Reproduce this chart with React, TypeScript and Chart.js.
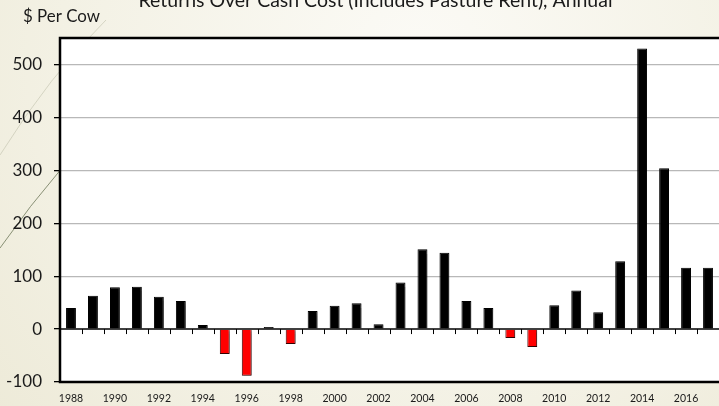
import React, { useEffect, useRef } from 'react';
import { Chart, registerables } from 'chart.js';

Chart.register(...registerables);

const years: string[] = [
  '1988', '1989', '1990', '1991', '1992', '1993', '1994', '1995', '1996', '1997',
  '1998', '1999', '2000', '2001', '2002', '2003', '2004', '2005', '2006', '2007',
  '2008', '2009', '2010', '2011', '2012', '2013', '2014', '2015', '2016', '2017',
];
const returnsPerCow: number[] = [
  40, 63, 79, 80, 61, 53, 7.5, -47, -88, 4,
  -28, 34, 44, 49, 9, 88, 151, 144, 53, 40,
  -17, -34, 45, 73, 32, 128, 530, 304, 116, 116,
];
const yTickValues: number[] = [-100, 0, 100, 200, 300, 400, 500];
const yMin = -100;
const yMax = 550;
const titleText = 'Returns Over Cash Cost (Includes Pasture Rent), Annual';
const yAxisLabel = '$ Per Cow';

const FONT = 'Lato, "Open Sans", sans-serif';

function fitText(ctx: CanvasRenderingContext2D, text: string, width: number): number {
  ctx.font = `100px ${FONT}`;
  const w = ctx.measureText(text).width;
  return (100 * width) / w;
}

const decorPlugin = {
  id: 'decor',
  beforeDraw(chart: any) {
    const { ctx, width, height, chartArea } = chart;
    ctx.save();
    const g = ctx.createRadialGradient(420, 60, 20, 420, 60, 700);
    g.addColorStop(0, '#fbfaf5');
    g.addColorStop(0.5, '#f3f1e4');
    g.addColorStop(1, '#e9e5cf');
    ctx.fillStyle = g;
    ctx.fillRect(0, 0, width, height);

    // decorative theme lines
    ctx.strokeStyle = 'rgba(110,120,90,0.8)';
    ctx.lineWidth = 1;
    ctx.beginPath();
    ctx.moveTo(0, 248);
    ctx.quadraticCurveTo(30, 205, 62, 168);
    ctx.stroke();
    ctx.strokeStyle = 'rgba(200,200,180,0.7)';
    ctx.beginPath();
    ctx.moveTo(0, 155);
    ctx.quadraticCurveTo(50, 75, 106, 20);
    ctx.stroke();

    // white plot area
    ctx.fillStyle = '#ffffff';
    ctx.fillRect(chartArea.left, chartArea.top, chartArea.right - chartArea.left, chartArea.bottom - chartArea.top);

    // title (partially cut at top)
    ctx.fillStyle = '#1a1a1a';
    ctx.textBaseline = 'alphabetic';
    ctx.textAlign = 'center';
    const ts = fitText(ctx, titleText, 474);
    ctx.font = `${ts}px ${FONT}`;
    ctx.fillText(titleText, 375.5, 7);

    // y axis label
    ctx.textAlign = 'left';
    const ls = fitText(ctx, yAxisLabel, 77);
    ctx.font = `${ls}px ${FONT}`;
    ctx.fillText(yAxisLabel, 23, 21.5);
    ctx.restore();
  },
  beforeDatasetsDraw(chart: any) {
    const { ctx } = chart;
    ctx.save();
    ctx.shadowColor = 'rgba(0,0,0,0.28)';
    ctx.shadowOffsetX = 2;
    ctx.shadowOffsetY = 1;
    ctx.shadowBlur = 1.5;
  },
  afterDatasetsDraw(chart: any) {
    const { ctx, chartArea, scales } = chart;
    ctx.restore();
    ctx.save();
    const y0 = scales.y.getPixelForValue(0);
    ctx.strokeStyle = '#000';
    ctx.lineWidth = 1.5;
    ctx.beginPath();
    ctx.moveTo(chartArea.left, y0);
    ctx.lineTo(chartArea.right, y0);
    ctx.stroke();
    const n = years.length;
    const cw = (chartArea.right - chartArea.left) / n;
    ctx.lineWidth = 1;
    for (let i = 1; i < n; i++) {
      const x = Math.round(chartArea.left + i * cw) + 0.5;
      ctx.beginPath();
      ctx.moveTo(x, y0);
      ctx.lineTo(x, y0 + 5);
      ctx.stroke();
    }
    // plot border: left, top, bottom
    ctx.lineWidth = 2.5;
    ctx.beginPath();
    ctx.moveTo(chartArea.right + 5, chartArea.top);
    ctx.lineTo(chartArea.left, chartArea.top);
    ctx.lineTo(chartArea.left, chartArea.bottom);
    ctx.lineTo(chartArea.right + 5, chartArea.bottom);
    ctx.stroke();
    ctx.restore();
  },
};

export default function App() {
  const ref = useRef<HTMLCanvasElement | null>(null);
  useEffect(() => {
    if (!ref.current) return;
    const chart = new Chart(ref.current, {
      type: 'bar',
      data: {
        labels: years,
        datasets: [
          {
            data: returnsPerCow,
            backgroundColor: returnsPerCow.map((v) => (v < 0 ? '#ff0000' : '#000000')),
            borderColor: returnsPerCow.map((v) => (v < 0 ? '#3a0000' : '#000000')),
            borderWidth: 1,
            barPercentage: 0.45,
            categoryPercentage: 1,
          },
        ],
      },
      options: {
        responsive: false,
        maintainAspectRatio: false,
        animation: false,
        layout: { padding: { top: 38, left: 0, right: 0, bottom: 0 } },
        plugins: {
          legend: { display: false },
          title: { display: false },
          tooltip: { enabled: false },
        },
        scales: {
          x: {
            grid: { display: false, drawTicks: false },
            border: { display: false },
            ticks: {
              autoSkip: false,
              maxRotation: 0,
              minRotation: 0,
              padding: 10,
              color: '#1a1a1a',
              font: { family: FONT, size: 10.5 },
              callback: (_v: any, i: number) => (i % 2 === 0 ? years[i] : ''),
            },
            afterFit: (s: any) => {
              s.height = 24;
            },
          },
          y: {
            min: yMin,
            max: yMax,
            afterBuildTicks: (s: any) => {
              s.ticks = yTickValues.map((v) => ({ value: v }));
            },
            grid: {
              color: (c: any) =>
                c.tick && (c.tick.value === 0 || c.tick.value === -100) ? 'rgba(0,0,0,0)' : '#b8b8b8',
              tickColor: '#000',
              tickLength: 6,
              lineWidth: 1.3,
            },
            border: { display: false },
            ticks: {
              padding: 12,
              color: '#1a1a1a',
              font: { family: FONT, size: 17 },
            },
            afterFit: (s: any) => {
              s.width = 60;
            },
          },
        },
      },
      plugins: [decorPlugin],
    } as any);
    return () => chart.destroy();
  }, []);
  return (
    <div style={{ position: 'fixed', left: 0, top: 0, width: 719, height: 406, overflow: 'hidden' }}>
      <canvas ref={ref} width={719} height={406} style={{ width: 719, height: 406, display: 'block' }} />
    </div>
  );
}
